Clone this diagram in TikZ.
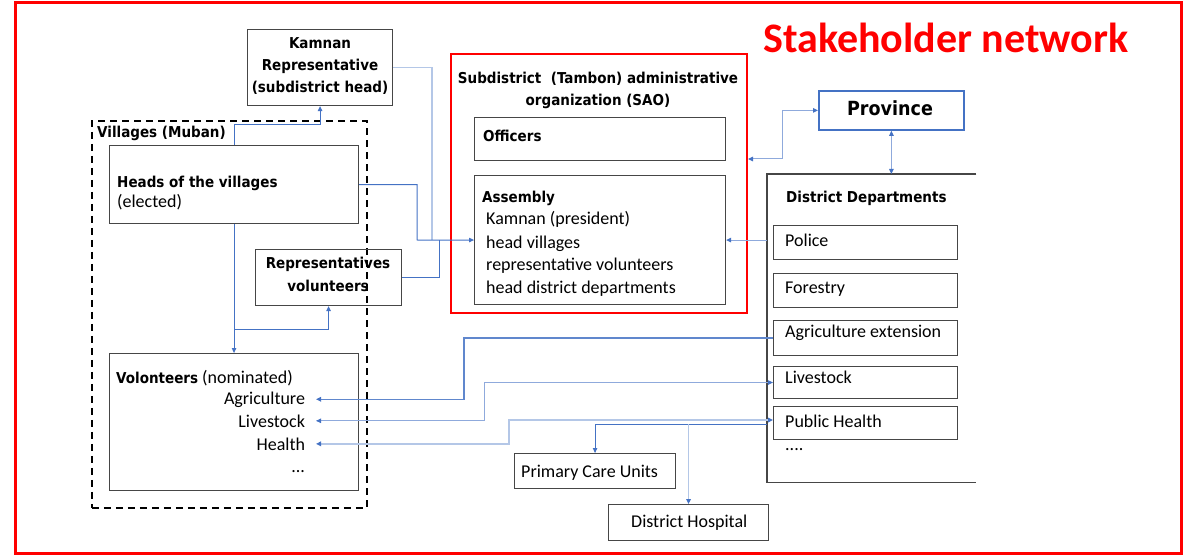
\documentclass[tikz,border=0pt]{standalone}
\usepackage{fontspec}
\setmainfont{Carlito}
\newfontfamily\hdfont{DejaVu Sans}[FakeStretch=0.9]
\usetikzlibrary{arrows.meta,calc}

\definecolor{framered}{RGB}{255,0,0}
\definecolor{linkblue}{RGB}{68,114,196}
\definecolor{linklight}{RGB}{143,170,220}
\definecolor{linkpale}{RGB}{180,199,231}
\definecolor{boxgray}{RGB}{70,70,70}

\tikzset{
  pbox/.style={draw=boxgray, line width=1.1pt, anchor=north west, inner sep=0pt},
  hd/.style={font=\hdfont\bfseries\fontsize{15}{18}\selectfont, inner sep=0pt},
  txt/.style={font=\fontsize{18}{21}\selectfont, inner sep=0pt},
  item/.style={txt, anchor=base east, outer xsep=11pt},
  conn/.style={draw=linkblue, line width=1pt},
  connL/.style={draw=linklight, line width=1pt},
  connP/.style={draw=linkpale, line width=1.7pt},
  >={Triangle[length=5pt,width=4.5pt,color=linkblue]}
}

\begin{document}
\begin{tikzpicture}[x=1pt,y=-1pt]
\useasboundingbox (0,0) rectangle (1189,556);
\draw[framered, line width=3pt] (15,3) rectangle (1181,553);
\node[anchor=base west, inner sep=0pt, text=framered, font=\bfseries\fontsize{42}{46}\selectfont] (title) at (763,53) {Stakeholder network};

% villages side
\node[pbox, minimum width=145pt, minimum height=76pt] (kamnan) at (247,29) {};
\node[hd, anchor=base] (kam1) at (320,49) {Kamnan};
\node[hd, anchor=base] (kam2) at (320,71) {Representative};
\node[hd, anchor=base] (kam3) at (320,93) {(subdistrict head)};

\node[draw=black, line width=1.8pt, dash pattern=on 7pt off 5pt, anchor=north west, inner sep=0pt, minimum width=275pt, minimum height=387pt] (villages) at (91,120) {};
\node[hd, anchor=base west] (vilL) at (97,138) {Villages (Muban)};

\node[pbox, minimum width=249pt, minimum height=78pt] (heads) at (109,145) {};
\node[hd, anchor=base west] (headsL) at (117,188) {Heads of the villages};
\node[txt, anchor=base west] (headsE) at (117,208) {(elected)};

\node[pbox, minimum width=146pt, minimum height=56pt] (reps) at (255,249) {};
\node[hd, anchor=base] (reps1) at (328,269) {Representatives};
\node[hd, anchor=base] (reps2) at (328,291) {volunteers};

\node[pbox, minimum width=249pt, minimum height=137pt] (vol) at (109,353) {};
\node[txt, anchor=base west] (volL) at (116,383) {{\hdfont\bfseries\fontsize{15}{18}\selectfont Volonteers} (nominated)};
\node[item] (vagr) at (316,404) {Agriculture};
\node[item] (vliv) at (316,427) {Livestock};
\node[item] (vhea) at (316,450) {Health};
\node[item] (vdots) at (316,472) {...};

% SAO
\node[draw=framered, line width=2pt, anchor=north west, inner sep=0pt, minimum width=296pt, minimum height=259pt] (sao) at (450,53) {};
\node[hd, anchor=base] (sao1) at (598,84) {Subdistrict\ \ (Tambon) administrative};
\node[hd, anchor=base] (sao2) at (598,106) {organization (SAO)};
\node[pbox, minimum width=251pt, minimum height=43pt] (off) at (474,117) {};
\node[hd, anchor=base west] (offL) at (483,142) {Officers};
\node[pbox, minimum width=251pt, minimum height=129pt] (asm) at (474,175) {};
\node[hd, anchor=base west] (asmL) at (482,203) {Assembly};
\node[txt, anchor=base west] (asm1) at (486,225) {Kamnan (president)};
\node[txt, anchor=base west] (asm2) at (486,248) {head villages};
\node[txt, anchor=base west] (asm3) at (486,270) {representative volunteers};
\node[txt, anchor=base west] (asm4) at (486,293) {head district departments};

% province and district
\node[draw=linkblue, line width=1.8pt, anchor=north west, inner sep=0pt, minimum width=145pt, minimum height=39pt] (prov) at (818,90) {};
\node[hd, font=\hdfont\bfseries\fontsize{19.5}{22}\selectfont, anchor=base] (provL) at (890,116) {Province};

\node[anchor=north west, inner sep=0pt, minimum width=209pt, minimum height=308pt] (dept) at (767,174) {};
\draw[boxgray, line width=1.1pt] (dept.north east) -- (dept.north west) -- (dept.south west) -- (dept.south east);
\node[hd, anchor=base west] (deptL) at (786,203) {District Departments};
\node[pbox, minimum width=184pt, minimum height=34pt] (pol) at (773,225) {};
\node[txt, anchor=base west] (polL) at (785,247) {Police};
\node[pbox, minimum width=184pt, minimum height=34pt] (for) at (773,273) {};
\node[txt, anchor=base west] (forL) at (785,293) {Forestry};
\node[pbox, minimum width=184pt, minimum height=35pt] (agr) at (773,320) {};
\node[txt, anchor=base west] (agrL) at (785,337) {Agriculture extension};
\node[pbox, minimum width=184pt, minimum height=32pt] (liv) at (773,366) {};
\node[txt, anchor=base west] (livL) at (785,383) {Livestock};
\node[pbox, minimum width=184pt, minimum height=33pt] (ph) at (773,406) {};
\node[txt, anchor=base west] (phL) at (785,427) {Public Health};
\node[txt, anchor=base west] (moreL) at (785,450) {....};

\node[pbox, minimum width=161pt, minimum height=35pt] (pcu) at (514,453) {};
\node[txt, anchor=base west] (pcuL) at (521,477) {Primary Care Units};
\node[pbox, minimum width=160pt, minimum height=36pt] (dh) at (608,504) {};
\node[txt, anchor=base west] (dhL) at (631,527) {District Hospital};

% connectors
\coordinate (split) at (234,329);
\coordinate (hubA) at (417,240);
\coordinate (hubK) at (432,240);
\coordinate (hubR) at (439,240);
\coordinate (provjog) at (782,159);

\draw[conn,->] (heads.north) -- ++(0,-20) -| (kamnan.south);
\draw[conn,->] (heads.south) -- (heads.south |- vol.north);
\draw[conn,->] (split) -| (reps.south);
\draw[connP] (kamnan.east) -| (hubK);
\draw[conn] (reps.east) -| (hubR);
\draw[conn,->] (heads.east) -| (hubA) -- (asm.west);
\draw[connL,->] (dept.west |- asm.east) -- (asm.east);
\draw[connL,<->] (prov.west) -| (provjog) -- (sao.east |- provjog);
\draw[connL,<->] (prov.south) -- (prov.south |- dept.north);

\draw[draw=linkblue!85, line width=1.5pt,->] (agr.west) -| ($(vagr.east)+(148,0)$) -- (vagr.east);
\draw[connL,<->] (vliv.east) -| ($(liv.west)+(-289,0)$) -- (liv.west);
\draw[connP,<->] (vhea.east) -| ($(ph.west)+(-264,-3)$) -- ($(ph.west)+(0,-3)$);
\draw[conn,->] (dept.west |- 0,424) -| (pcu.north);
\draw[connP,->] (dh.north |- 0,424) -- (dh.north);
\end{tikzpicture}
\end{document}
